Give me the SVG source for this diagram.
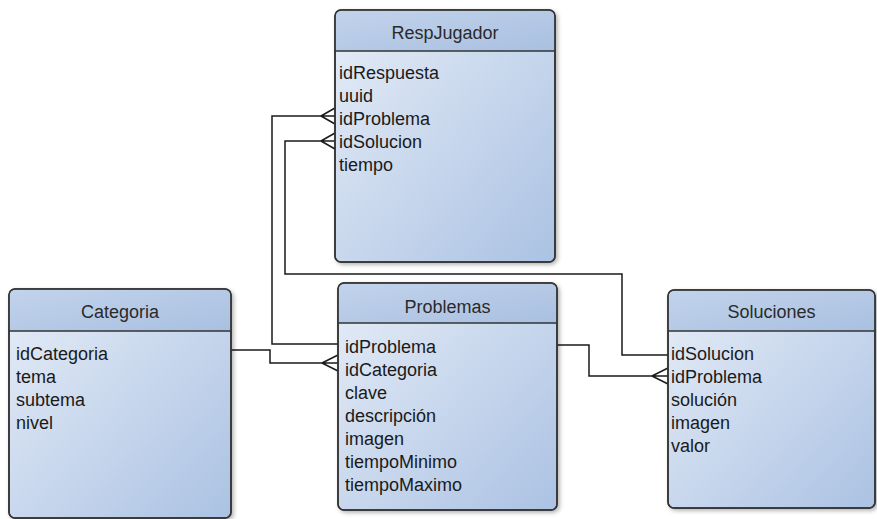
<svg xmlns="http://www.w3.org/2000/svg" width="877" height="519" viewBox="0 0 877 519">
<defs>
<linearGradient id="body" x1="0" y1="0" x2="1" y2="1">
<stop offset="0" stop-color="#e6edf7"/>
<stop offset="1" stop-color="#abc2e3"/>
</linearGradient>
<linearGradient id="head" x1="0" y1="0" x2="1" y2="1">
<stop offset="0" stop-color="#c2d3eb"/>
<stop offset="1" stop-color="#a9c0e1"/>
</linearGradient>
<filter id="sh" x="-10%" y="-10%" width="130%" height="130%">
<feDropShadow dx="2" dy="2" stdDeviation="2" flood-color="#000" flood-opacity="0.3"/>
</filter>
</defs>
<style>
.box{fill:url(#body);stroke:#333;stroke-width:1.5;filter:url(#sh)}
.hd{fill:url(#head)}
.sep{stroke:#333;stroke-width:1.5}
.t{font-family:"Liberation Sans",Arial,sans-serif;font-size:18px;fill:#2a2a2a;text-anchor:middle}
.f{font-family:"Liberation Sans",Arial,sans-serif;font-size:18px;fill:#1a1a1a}
.c{fill:none;stroke:#1a1a1a;stroke-width:1.5}
</style>
<rect width="877" height="519" fill="#fff"/>

<g id="connectors">
<path class="c" d="M231,350 H270 V363 H338 M322,363 L338,355 M322,363 L338,371"/>
<path class="c" d="M338,344 H272 V116 H335 M321,116 L335,108 M321,116 L335,124"/>
<path class="c" d="M668,355 H622 V274 H285 V141 H335 M321,141 L335,133 M321,141 L335,149"/>
<path class="c" d="M557,345 H589 V376 H668 M652,376 L668,368 M652,376 L668,384"/>
</g>

<g id="RespJugador">
<rect class="box" x="335" y="10" width="220" height="252" rx="6"/>
<path class="hd" d="M341,10.75 H549 A5.25,5.25 0 0 1 554.25,16 V51 H335.75 V16 A5.25,5.25 0 0 1 341,10.75 Z"/>
<rect x="335" y="10" width="220" height="252" rx="6" fill="none" stroke="#333" stroke-width="1.5"/>
<line class="sep" x1="335" y1="51" x2="555" y2="51"/>
<text class="t" x="445" y="39">RespJugador</text>
<text class="f" x="339" y="79">idRespuesta</text>
<text class="f" x="339" y="102">uuid</text>
<text class="f" x="339" y="125">idProblema</text>
<text class="f" x="339" y="148">idSolucion</text>
<text class="f" x="339" y="171">tiempo</text>
</g>

<g id="Categoria">
<rect class="box" x="9" y="289" width="222" height="229" rx="6"/>
<path class="hd" d="M15,289.75 H225 A5.25,5.25 0 0 1 230.25,295 V331 H9.75 V295 A5.25,5.25 0 0 1 15,289.75 Z"/>
<rect x="9" y="289" width="222" height="229" rx="6" fill="none" stroke="#333" stroke-width="1.5"/>
<line class="sep" x1="9" y1="331" x2="231" y2="331"/>
<text class="t" x="120" y="318">Categoria</text>
<text class="f" x="16" y="360">idCategoria</text>
<text class="f" x="16" y="383">tema</text>
<text class="f" x="16" y="406">subtema</text>
<text class="f" x="16" y="429">nivel</text>
</g>

<g id="Problemas">
<rect class="box" x="338" y="283" width="219" height="227" rx="6"/>
<path class="hd" d="M344,283.75 H551 A5.25,5.25 0 0 1 556.25,289 V323 H338.75 V289 A5.25,5.25 0 0 1 344,283.75 Z"/>
<rect x="338" y="283" width="219" height="227" rx="6" fill="none" stroke="#333" stroke-width="1.5"/>
<line class="sep" x1="338" y1="323" x2="557" y2="323"/>
<text class="t" x="447.5" y="313">Problemas</text>
<text class="f" x="345" y="353">idProblema</text>
<text class="f" x="345" y="376">idCategoria</text>
<text class="f" x="345" y="399">clave</text>
<text class="f" x="345" y="422">descripción</text>
<text class="f" x="345" y="445">imagen</text>
<text class="f" x="345" y="468">tiempoMinimo</text>
<text class="f" x="345" y="491">tiempoMaximo</text>
</g>

<g id="Soluciones">
<rect class="box" x="668" y="290" width="207" height="218" rx="6"/>
<path class="hd" d="M674,290.75 H869 A5.25,5.25 0 0 1 874.25,296 V331 H668.75 V296 A5.25,5.25 0 0 1 674,290.75 Z"/>
<rect x="668" y="290" width="207" height="218" rx="6" fill="none" stroke="#333" stroke-width="1.5"/>
<line class="sep" x1="668" y1="331" x2="875" y2="331"/>
<text class="t" x="771.5" y="318">Soluciones</text>
<text class="f" x="671" y="360">idSolucion</text>
<text class="f" x="671" y="383">idProblema</text>
<text class="f" x="671" y="406">solución</text>
<text class="f" x="671" y="429">imagen</text>
<text class="f" x="671" y="452">valor</text>
</g>
</svg>
